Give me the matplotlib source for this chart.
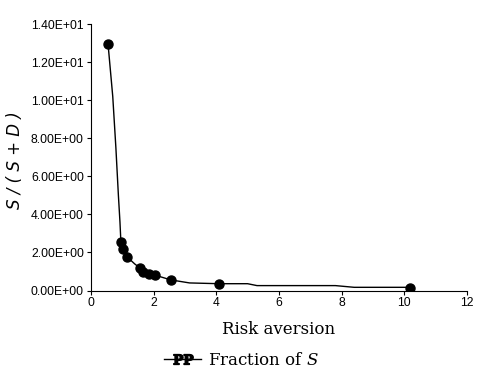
import matplotlib
matplotlib.use("Agg")
import matplotlib.pyplot as plt
from matplotlib.lines import Line2D

plt.rcParams['mathtext.fontset'] = 'dejavuserif'

# curve (risk aversion vs share)
line_x = [0.55, 0.70, 0.80, 0.88, 0.93, 0.96, 1.04, 1.15, 1.40, 1.57, 1.68, 1.85, 2.05,
          2.55, 3.15, 4.09, 5.0, 5.3, 7.8, 8.4, 10.18]
line_y = [12.95, 10.2, 7.5, 5.0, 3.6, 2.54, 2.17, 1.78, 1.40, 1.18, 1.0, 0.88, 0.81,
          0.56, 0.40, 0.36, 0.36, 0.26, 0.26, 0.17, 0.17]

# marked observations
pts_x = [0.55, 0.96, 1.04, 1.15, 1.57, 1.68, 1.85, 2.05, 2.55, 4.09, 10.18]
pts_y = [12.95, 2.54, 2.17, 1.78, 1.18, 1.0, 0.88, 0.81, 0.56, 0.34, 0.16]

yticks = [0, 2, 4, 6, 8, 10, 12, 14]
ytick_labels = ['0.00E+00', '2.00E+00', '4.00E+00', '6.00E+00', '8.00E+00',
                '1.00E+01', '1.20E+01', '1.40E+01']
xticks = [0, 2, 4, 6, 8, 10, 12]

fig = plt.figure(figsize=(4.83, 3.90), dpi=100)
ax = fig.add_axes([0.188, 0.255, 0.779, 0.683])

ax.plot(line_x, line_y, color='black', lw=1.0)
ax.plot(pts_x, pts_y, 'o', color='black', ms=6.5, lw=0)

ax.set_xlim(0, 12)
ax.set_ylim(0, 14)
ax.set_xticks(xticks)
ax.set_yticks(yticks)
ax.set_yticklabels(ytick_labels)
ax.tick_params(labelsize=8.7, length=3, width=0.8, pad=2)
for lab in ax.get_xticklabels() + ax.get_yticklabels():
    lab.set_family('Liberation Sans')
for s in ['top', 'right']:
    ax.spines[s].set_visible(False)

ax.set_xlabel('Risk aversion', family='DejaVu Serif', fontsize=12, labelpad=8)
fig.text(0.032, 0.59, 'S / ( S + D )', fontsize=12, style='italic',
         rotation=90, ha='center', va='center')

h = Line2D([0], [0], color='black', lw=1.0, marker=r'$\mathbf{PP}$', ms=14)
fig.legend([h], ['Fraction of $S$'], loc='center', bbox_to_anchor=(0.5, 0.075),
           frameon=False, prop={'family': 'DejaVu Serif', 'size': 12},
           handlelength=2.2, handletextpad=0.4)

fig.savefig('out.png', dpi=100)
